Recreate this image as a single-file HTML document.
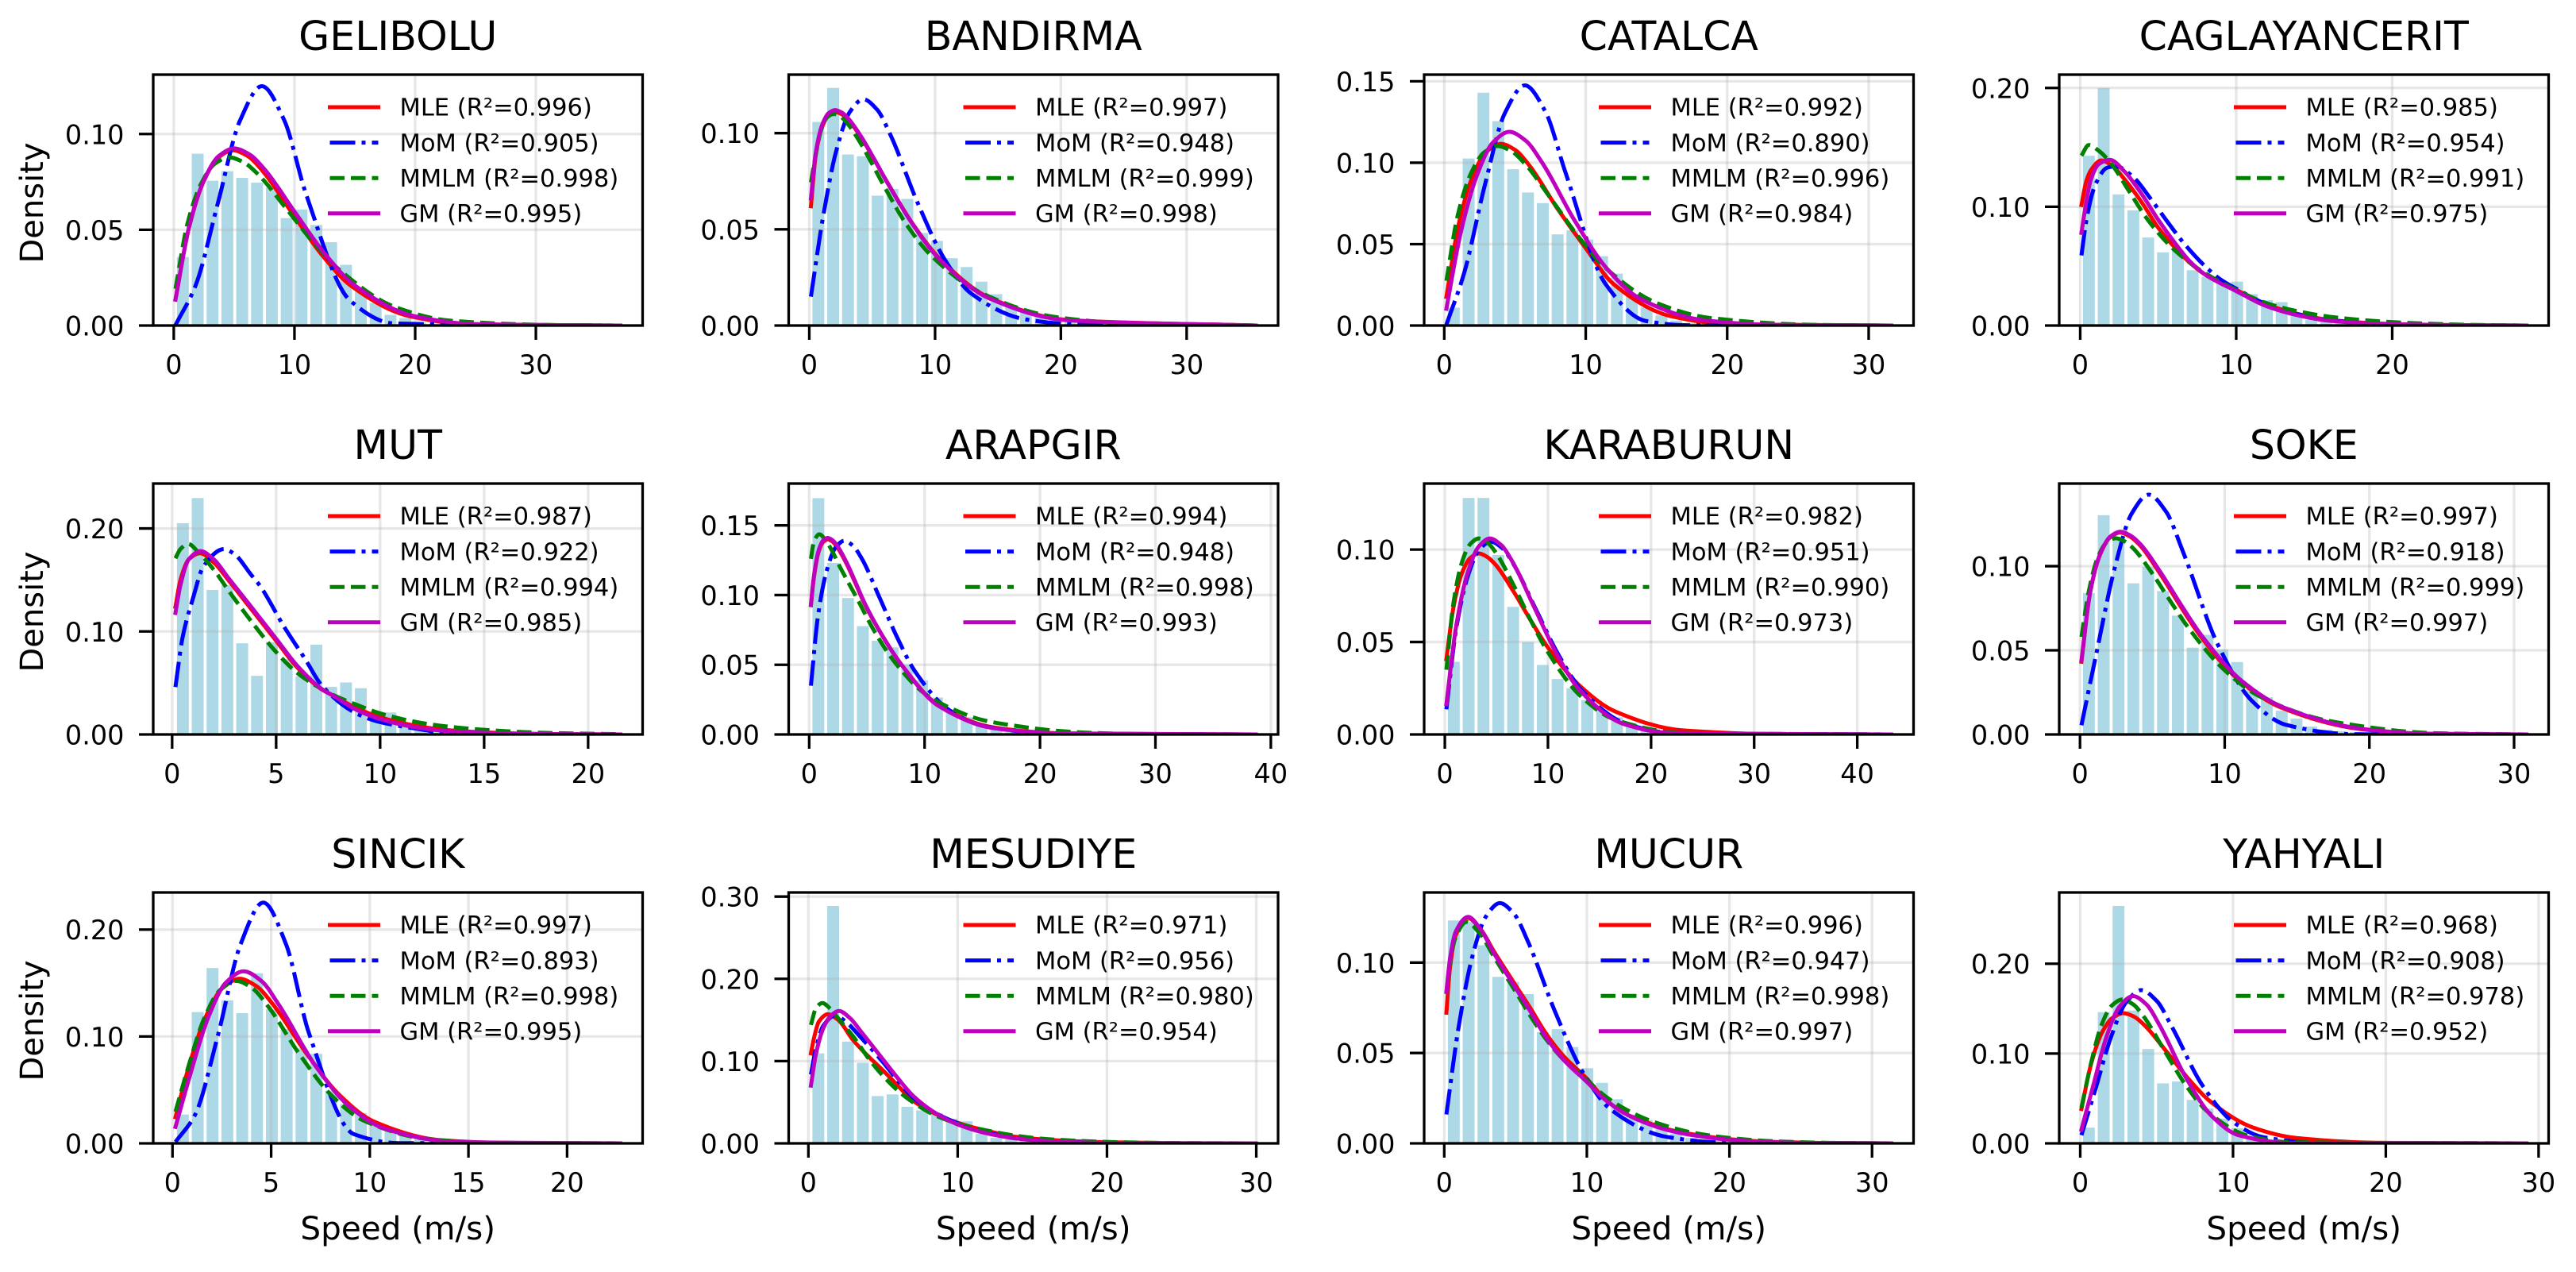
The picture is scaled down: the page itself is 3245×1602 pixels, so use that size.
<!DOCTYPE html>
<html lang="en">
<head>
<meta charset="utf-8">
<title>Wind speed distribution fits</title>
<style>
html,body{margin:0;padding:0;background:#fff;}
svg{display:block;}
text{font-family:"DejaVu Sans","Liberation Sans",sans-serif;fill:#000;}
</style>
</head>
<body>
<svg id="figure" xmlns="http://www.w3.org/2000/svg" width="3245" height="1602" viewBox="0 0 3245 1602"></svg>
<script>
const stationNames = ['GELIBOLU','BANDIRMA','CATALCA','CAGLAYANCERIT','MUT','ARAPGIR','KARABURUN','SOKE','SINCIK','MESUDIYE','MUCUR','YAHYALI'];
const xMin = [.14,.13,.15,.08,.16,.15,.15,.1,.15,.17,.15,.08];
const xMax = [37,35.5,31.6,28.6,21.55,38.7,43.3,30.85,22.7,29.97,31.35,29.2];
const yMax = [.131,.1304,.1541,.2112,.2436,.18,.1357,.1491,.2347,.305,.1388,.2793];
const xTicks = [[0,10,20,30],[0,10,20,30],[0,10,20,30],[0,10,20],[0,5,10,15,20],[0,10,20,30,40],[0,10,20,30,40],[0,10,20,30],[0,5,10,15,20],[0,10,20,30],[0,10,20,30],[0,10,20,30]];
const yTicks = [[0,.05,.1],[0,.05,.1],[0,.05,.1,.15],[0,.1,.2],[0,.1,.2],[0,.05,.1,.15],[0,.05,.1],[0,.05,.1],[0,.1,.2],[0,.1,.2,.3],[0,.05,.1],[0,.1,.2]];
const r2Mle = [.996,.997,.992,.985,.987,.994,.982,.997,.997,.971,.996,.968];
const r2Mom = [.905,.948,.890,.954,.922,.948,.951,.918,.893,.956,.947,.908];
const r2Mmlm = [.998,.999,.996,.991,.994,.998,.990,.999,.998,.980,.998,.978];
const r2Gm = [.995,.998,.984,.975,.985,.993,.973,.997,.995,.954,.997,.952];

const binDensity = [
[.0358,.0897,.0756,.0806,.0771,.0746,.072,.0561,.0606,.0525,.0435,.0317,.0182,.0118,.0056,.0039,.0015,.001,.0005,.0004,.0003,.0002,.0001,.0001,.0001,0,0,0,0,.0001],
[.1058,.1235,.0889,.088,.0675,.071,.0658,.0481,.044,.035,.0304,.0228,.0163,.0108,.0073,.0053,.0039,.0025,.0018,.0014,.001,.0007,.0005,.0003,.0002,.0001,.0001,.0001,0,.0001],
[.011,.1026,.143,.1255,.096,.0817,.0752,.056,.0585,.0528,.0426,.0319,.0193,.0111,.0062,.003,.0016,.001,.0007,.0004,.0003,.0002,.0001,.0001,0,0,0,0,0,.0001],
[.1429,.2,.1104,.097,.0741,.0616,.0634,.0466,.041,.0354,.037,.0264,.0213,.0197,.0085,.005,.0036,.0025,.002,.0012,.0008,.0005,.0003,.0002,.0001,.0001,0,0,0,.0001],
[.2051,.2295,.1403,.1449,.0885,.0569,.0897,.0731,.0564,.0872,.0462,.0505,.0449,.0218,.0213,.0103,.0085,.0064,.0051,.0038,.003,.002,.0015,.001,.0007,.0004,.0003,.0002,.0001,.0001],
[.1695,.1231,.0979,.0777,.0672,.0625,.0502,.0388,.0265,.018,.0123,.0066,.0047,.0034,.0025,.0017,.0012,.0008,.0005,.0003,.0002,.0001,.0001,0,0,0,0,0,0,.0001],
[.0393,.1279,.1279,.0971,.069,.05,.0376,.03,.025,.0186,.0136,.0093,.0057,.0036,.0024,.0016,.001,.0007,.0004,.0003,.0002,.0001,.0001,0,0,0,0,0,0,.0001],
[.084,.1303,.1154,.0898,.0997,.0852,.0706,.0516,.0592,.0505,.043,.0267,.022,.0141,.0094,.0047,.0028,.002,.0014,.001,.0006,.0004,.0002,.0001,.0001,0,0,0,0,.0001],
[.027,.1228,.164,.1338,.1218,.1591,.1254,.107,.0888,.0837,.0494,.0368,.0283,.0193,.0129,.009,.0051,.0039,.0026,.0015,.001,.0006,.0003,.0002,.0001,.0001,0,0,0,.0001],
[.1094,.2886,.1237,.098,.0575,.0595,.0445,.0401,.0368,.03,.0268,.0117,.0067,.005,.0033,.0027,.002,.0014,.001,.0007,.0005,.0003,.0002,.0001,.0001,0,0,0,0,.0001],
[.1233,.1225,.1096,.0921,.0893,.0826,.0616,.0632,.0533,.0416,.0335,.0244,.016,.0129,.0084,.0053,.003,.0023,.0015,.0012,.0009,.0006,.0004,.0002,.0001,.0001,0,0,0,.0001],
[.0175,.1461,.2643,.1479,.1051,.0668,.0689,.0484,.0389,.0276,.0168,.0077,.0046,.0031,.0025,.0018,.0012,.0008,.0005,.0003,.0002,.0001,.0001,0,0,0,0,0,0,.0001]
];

const mleSpeed = [
[.14,1.23,2.45,3.68,4.9,6.13,7.35,9.8,12.25,14.7,19.6,24.5,37],
[.13,.52,1.04,1.55,2.07,2.59,3.11,4.14,5.18,6.21,8.28,10.35,14.49,20.7,35.5],
[.15,1,2,3,4,5,6,8,10,12,16,20,31.6],
[.08,.4,.7,1.35,2,3,4,5,6,7,8,10,12,14,16,20,25,28.6],
[.16,.4,.8,1.33,2,2.7,3.8,5,6,7.2,7.8,8.85,10,11.9,13.1,15,18,21.55],
[.15,.4,.8,1.2,1.6,2,2.4,3.2,4,4.8,6.4,8,11.2,16,22,38.7],
[.15,.83,1.65,2.48,3.3,4.13,4.95,6.6,8.25,9.9,13.2,16.5,23.1,33,43.3],
[.1,.69,1.39,2.08,2.77,3.46,4.16,5.54,6.93,8.31,11.08,13.85,19.39,24,30.85],
[.15,.85,1.7,2.55,3.4,4.25,5.1,6.8,8.5,10.2,13.6,17,22.7],
[.17,.4,.7,1.3,2,3,4,5,6,7,8.5,10,12,14,16,20,25,29.97],
[.15,.4,.8,1.62,2.5,3.5,5,6,7.2,8.4,10,11.3,12.8,14.3,15.75,17.2,20,23,27,31.35],
[.08,.71,1.41,2.12,2.82,3.53,4.23,5.64,7.05,8.46,11.28,14.1,19.74,29.2]
];
const mleDensity = [
[.0136,.0503,.0749,.0877,.0915,.0885,.0808,.0588,.0371,.0207,.0048,.0007,0],
[.062,.0888,.1035,.1094,.111,.1098,.1068,.0976,.0861,.0743,.0523,.0349,.0139,.0028,0],
[.0176,.0614,.0914,.1069,.1116,.1079,.0985,.0718,.0475,.0252,.0058,.0009,0],
[.1015,.122,.131,.139,.135,.1205,.1026,.0824,.0667,.0533,.043,.03,.0175,.0096,.0047,.0013,.0002,0],
[.124,.15,.17,.176,.167,.15,.1218,.091,.0654,.0436,.0372,.0256,.0167,.0077,.0044,.002,.0004,0],
[.0928,.112,.1305,.138,.14,.1385,.1347,.1231,.1086,.0937,.07,.05,.021,.005,.0008,0],
[.0407,.0685,.0872,.0955,.0979,.0959,.0916,.0779,.0624,.0478,.0257,.0125,.0022,.0001,0],
[.0432,.084,.1069,.1171,.12,.1176,.1123,.0955,.0764,.0586,.0316,.0162,.0032,.0004,0],
[.0245,.0732,.119,.1455,.154,.1471,.1298,.0838,.0445,.0205,.003,.0004,0],
[.1094,.13,.148,.157,.15,.1254,.106,.0886,.07,.052,.036,.025,.015,.0077,.0043,.0013,.0002,0],
[.0723,.097,.115,.1248,.119,.106,.0875,.0753,.06,.048,.0358,.0243,.016,.0114,.0076,.0053,.0023,.0008,.0002,0],
[.0383,.0884,.1229,.1398,.1449,.141,.1311,.1023,.0725,.0474,.0178,.0061,.0006,0]
];

const momSpeed = [
[.14,1.83,3.65,5.48,7.3,9.13,10.95,14.6,18.25,37],
[.13,1.08,2.15,3.23,4.3,5.38,6.45,8.6,10.75,12.9,17.2,21.5,35.5],
[.15,1.43,2.85,4.28,5.7,7.13,8.55,11.4,14.25,17.1,31.6],
[.08,.4,.95,1.75,2.3,3.4,4.5,5.5,6.6,8,9,10,12,14,16,20,28.6],
[.16,.5,1,1.5,2.5,3,3.8,4.2,5.4,6.4,7.2,8.85,9.85,11.9,13,15,21.55],
[.15,.76,1.53,2.29,3.05,3.81,4.58,6.1,7.63,9.15,12.2,15.25,21.35,38.7],
[.15,1.11,2.22,3.33,4.44,5.55,6.66,8.88,11.1,13.32,17.76,22.2,43.3],
[.1,1.19,2.38,3.56,4.75,5.94,7.13,9.5,11.88,14.25,19,30.85],
[.15,1.15,2.3,3.45,4.6,5.75,6.9,9.2,11.5,22.7],
[.17,.5,1,1.8,2.5,3.5,5,6,7,8.5,10,12,14,16,20,25,29.97],
[.15,.98,1.95,2.93,3.9,4.9,5.85,7.8,9.75,11.7,15.6,19.5,31.35],
[.08,1,2,3,4,5,6,8,10,12,16,29.2]
];
const momDensity = [
[.0002,.0213,.0638,.1069,.125,.1075,.0688,.0131,.0011,0],
[.015,.0559,.0909,.1111,.1176,.1123,.0991,.064,.0345,.0165,.0032,.0005,0],
[.0005,.033,.0856,.1304,.1475,.1317,.0945,.0255,.0028,.0002,0],
[.059,.089,.118,.133,.134,.125,.107,.089,.07,.05,.0387,.031,.0175,.0092,.0045,.0009,0],
[.046,.094,.132,.163,.18,.175,.155,.145,.104,.073,.0474,.0205,.0128,.0051,.0018,.0003,0],
[.035,.0848,.1179,.1341,.139,.1352,.1258,.0981,.0695,.0455,.0171,.0058,.0006,0],
[.0136,.0574,.0854,.0999,.1043,.1009,.0921,.0671,.0423,.0236,.0054,.0008,0],
[.0055,.0506,.0983,.1311,.1425,.1325,.1083,.0539,.02,.0057,.0001,0],
[.0013,.027,.1009,.1862,.2252,.1865,.104,.0086,.0002,0],
[.0836,.115,.143,.1555,.148,.129,.0987,.076,.056,.037,.0245,.013,.0062,.003,.0006,0,0],
[.016,.063,.1027,.1256,.1329,.1269,.112,.0723,.0389,.0186,.0036,.0005,0],
[.0092,.0606,.1177,.157,.1706,.1587,.1297,.0645,.0239,.0068,.0002,0]
];

const mmlmSpeed = [
[.14,1.15,2.3,3.45,4.6,5.75,6.9,9.2,11.5,13.8,18.4,23,32.2,37],
[.13,.49,.98,1.46,1.95,2.44,2.93,3.9,4.88,5.85,7.8,9.75,13.65,19.5,25,35.5],
[.15,.94,1.89,2.83,3.77,4.71,5.66,7.54,9.43,11.31,15.08,18.85,26.39,31.6],
[.08,.55,1.2,2,3.1,4.2,5.3,6.35,7.7,10,12,14,16,20,25,28.6],
[.16,.4,.77,1.3,2,2.7,3.8,5,6,7.2,8,8.85,10,11.9,13.1,15,18,21.55],
[.15,.4,.87,1.6,2.8,4.15,5.6,7.4,10,12.5,15,18.3,21.2,24.9,30,38.7],
[.15,.83,1.65,2.48,3.3,4.13,4.95,6.6,8.25,9.9,13.2,16.5,23.1,43.3],
[.1,.62,1.24,1.86,2.48,3.1,3.72,4.96,6.2,7.44,9.92,12.4,17.36,24.8,30.85],
[.15,.81,1.62,2.42,3.23,4.04,4.85,6.46,8.08,9.69,12.92,16.15,22.7],
[.17,.5,.93,1.5,2,3,4,5,6,7,8.5,10,12,14,16,20,25,29.97],
[.15,.4,.8,1.56,2.5,3.5,5,6,7.2,8.4,10,11.3,12.8,14.3,15.75,17.2,20,23,27,31.35],
[.08,.69,1.38,2.07,2.76,3.45,4.14,5.52,6.9,8.28,11.04,13.8,29.2]
];
const mmlmDensity = [
[.0192,.0536,.0745,.0847,.0878,.0854,.0795,.062,.0439,.0287,.0095,.0025,.0002,0],
[.0744,.088,.1025,.1085,.11,.1088,.1058,.0967,.0854,.0736,.0518,.036,.017,.0045,.0013,0],
[.0275,.0673,.0935,.1064,.1103,.1073,.0998,.0779,.0552,.0361,.0136,.0046,.0004,0],
[.143,.152,.147,.136,.1138,.0914,.0735,.06,.0466,.03,.0186,.0119,.0074,.0029,.0006,0],
[.171,.18,.185,.176,.16,.14,.11,.08,.06,.044,.036,.029,.0205,.0115,.008,.0045,.0015,.0003],
[.126,.138,.1436,.137,.118,.0975,.0748,.052,.0294,.018,.0104,.0057,.0028,.001,.0002,0],
[.035,.0709,.093,.1031,.106,.1038,.0983,.0815,.0626,.0454,.0206,.008,.0008,0],
[.058,.0857,.1055,.1143,.1166,.1147,.1102,.0961,.0798,.064,.0388,.0227,.0078,.0007,0],
[.0296,.0722,.1175,.1436,.152,.1452,.128,.0827,.0445,.0213,.0041,.0006,0],
[.144,.164,.1706,.163,.152,.13,.104,.082,.064,.05,.034,.024,.0155,.009,.0052,.0018,.0003,0],
[.083,.1,.114,.1225,.116,.103,.084,.071,.057,.046,.035,.026,.0185,.013,.0092,.0063,.003,.0012,.0003,0],
[.0398,.0881,.1312,.1535,.1602,.1549,.1415,.103,.065,.0362,.0083,.0013,0]
];

const gmSpeed = [
[.14,1.25,2.5,3.75,5,6.25,7.5,10,12.5,15,20,25,37],
[.13,.51,1.03,1.54,2.05,2.56,3.08,4.1,5.13,6.15,8.2,10.25,14.35,20.5,35.5],
[.15,1.15,2.3,3.45,4.6,5.75,6.9,9.2,11.5,13.8,18.4,23,31.6],
[.08,.4,.68,1.2,1.9,2.85,3.9,5,6.1,7,8,10,12,14,16,20,28.6],
[.16,.4,.8,1.37,2,2.7,3.8,5,6,7.2,7.8,8.85,10,11.9,13.1,15,18,21.55],
[.15,.4,.8,1.2,1.6,2,2.4,3.2,4,4.8,6.4,8,11.2,16,22,38.7],
[.15,1.09,2.18,3.27,4.36,5.45,6.54,8.72,10.9,13.08,17.44,21.8,43.3],
[.1,.7,1.4,2.1,2.8,3.5,4.2,5.6,7,8.4,11.2,14,19.6,24,30.85],
[.15,.9,1.8,2.7,3.6,4.5,5.4,7.2,9,10.8,14.4,22.7],
[.17,.5,1,1.5,2.05,2.8,3.54,5,6,7,8.5,10,12,14,16,20,25,29.97],
[.15,.4,.8,1.68,2.5,3.5,5,6,7.2,8.4,10,11.3,12.8,14.3,15.75,17.2,20,23,27,31.35],
[.08,.87,1.73,2.6,3.46,4.33,5.19,6.92,8.65,10.38,13.84,29.2]
];
const gmDensity = [
[.0135,.0509,.0758,.0886,.0925,.0894,.0817,.0595,.0376,.0209,.0048,.0007,0],
[.066,.0896,.1044,.1104,.112,.1108,.1077,.0984,.0869,.0749,.0528,.0352,.014,.0028,0],
[.0103,.0565,.092,.1125,.119,.1136,.1003,.0647,.0349,.0167,.0032,.0005,0],
[.078,.105,.1227,.136,.1395,.1295,.1115,.089,.069,.0544,.043,.029,.016,.0085,.004,.001,0],
[.118,.145,.17,.178,.17,.152,.124,.093,.067,.044,.037,.024,.015,.0063,.0035,.0015,.0003,0],
[.0928,.113,.1315,.139,.141,.1395,.1357,.124,.1094,.0943,.07,.05,.0205,.0045,.0007,0],
[.0164,.0583,.0868,.1015,.106,.1025,.0936,.0682,.043,.024,.0055,.0008,0],
[.044,.0844,.1074,.1176,.1205,.1181,.1128,.0959,.0768,.0588,.0317,.0163,.0032,.0004,0],
[.0154,.0644,.1172,.1502,.161,.152,.1293,.0738,.034,.0135,.0012,0],
[.0702,.108,.14,.155,.161,.152,.1355,.102,.079,.058,.037,.023,.012,.0058,.0027,.0005,0,0],
[.0837,.102,.117,.1253,.119,.105,.086,.0735,.058,.046,.034,.024,.016,.0108,.0072,.0048,.002,.0006,.0001,0],
[.0153,.0656,.1193,.1529,.1639,.1547,.1316,.0731,.0297,.009,.0003,0]
];

const SVG_NS = 'http://www.w3.org/2000/svg';
const figure = document.getElementById('figure');
const plotWidth = 616.5, plotHeight = 316;
const columnLeft = [193, 993.5, 1794, 2594];
const rowTop = [94, 609, 1124];
const binCount = 30;

function make(parent, tag, attrs, content) {
  const node = document.createElementNS(SVG_NS, tag);
  for (const key in attrs) node.setAttribute(key, attrs[key]);
  if (content !== undefined) node.textContent = content;
  parent.appendChild(node);
  return node;
}

function monotonePath(points) {
  const n = points.length, h = [], d = [], m = new Array(n);
  for (let i = 0; i < n - 1; i++) {
    h[i] = points[i + 1][0] - points[i][0];
    d[i] = (points[i + 1][1] - points[i][1]) / h[i];
  }
  m[0] = d[0];
  m[n - 1] = d[n - 2];
  for (let i = 1; i < n - 1; i++) {
    if (d[i - 1] * d[i] <= 0) { m[i] = 0; continue; }
    const w1 = 2 * h[i] + h[i - 1], w2 = h[i] + 2 * h[i - 1];
    m[i] = (w1 + w2) / (w1 / d[i - 1] + w2 / d[i]);
  }
  let path = 'M' + points[0][0].toFixed(2) + ' ' + points[0][1].toFixed(2);
  for (let i = 0; i < n - 1; i++) {
    const c1x = points[i][0] + h[i] / 3, c1y = points[i][1] + m[i] * h[i] / 3;
    const c2x = points[i + 1][0] - h[i] / 3, c2y = points[i + 1][1] - m[i + 1] * h[i] / 3;
    path += 'C' + c1x.toFixed(2) + ' ' + c1y.toFixed(2) + ' ' + c2x.toFixed(2) + ' ' + c2y.toFixed(2) + ' ' + points[i + 1][0].toFixed(2) + ' ' + points[i + 1][1].toFixed(2);
  }
  return path;
}

const solidStyle = { stroke: '', 'stroke-width': 5, 'stroke-linecap': 'square', fill: 'none', 'stroke-linejoin': 'round' };
const mleStroke = Object.assign({}, solidStyle, { stroke: '#ff0000' });
const momStroke = { stroke: '#0000ff', 'stroke-width': 5, 'stroke-dasharray': '32 8 5 8', 'stroke-linecap': 'butt', fill: 'none', 'stroke-linejoin': 'round' };
const mmlmStroke = { stroke: '#008000', 'stroke-width': 5, 'stroke-dasharray': '18.5 8', 'stroke-linecap': 'butt', fill: 'none', 'stroke-linejoin': 'round' };
const gmStroke = Object.assign({}, solidStyle, { stroke: '#bf00bf' });

stationNames.forEach(function (station, p) {
  const col = p % 4, row = Math.floor(p / 4);
  const left = columnLeft[col], top = rowTop[row];
  const right = left + plotWidth, bottom = top + plotHeight;
  const range = xMax[p] - xMin[p];
  const lo = xMin[p] - 0.05 * range, hi = xMax[p] + 0.05 * range;
  const xScale = function (v) { return left + (v - lo) / (hi - lo) * plotWidth; };
  const yScale = function (v) { return bottom - v / yMax[p] * plotHeight; };

  const panel = make(figure, 'g', {});
  
  

  const clipId = 'clip-' + p;
  const defs = make(panel, 'defs', {});
  const clip = make(defs, 'clipPath', { id: clipId });
  make(clip, 'rect', { x: left, y: top, width: plotWidth, height: plotHeight });

  const title = make(panel, 'text', { x: left + plotWidth / 2, y: top - 31, 'text-anchor': 'middle', 'font-size': 50.5 }, station);
  
  

  const barGroup = make(panel, 'g', { 'clip-path': 'url(#' + clipId + ')' });
  
  
  const binWidth = range / binCount;
  binDensity[p].forEach(function (value, i) {
    const start = xMin[p] + i * binWidth + 0.1 * binWidth;
    const end = start + 0.8 * binWidth;
    const bar = make(barGroup, 'rect', { x: xScale(start).toFixed(2), y: yScale(value).toFixed(2), width: (xScale(end) - xScale(start)).toFixed(2), height: (bottom - yScale(value)).toFixed(2), fill: '#add8e6' });
    
    
  });

  const grid = make(panel, 'g', { 'clip-path': 'url(#' + clipId + ')', stroke: '#b0b0b0', 'stroke-opacity': 0.3, 'stroke-width': 3.3 });
  
  
  xTicks[p].forEach(function (t) {
    make(grid, 'line', { x1: xScale(t), x2: xScale(t), y1: top, y2: bottom });
  });
  yTicks[p].forEach(function (t) {
    make(grid, 'line', { x1: left, x2: right, y1: yScale(t), y2: yScale(t) });
  });

  const drawCurve = function (speeds, density, style) {
    const points = speeds.map(function (s, i) { return [xScale(s), yScale(density[i])]; });
    return make(panel, 'path', Object.assign({ d: monotonePath(points), 'clip-path': 'url(#' + clipId + ')' }, style));
  };
  const mleCurve = drawCurve(mleSpeed[p], mleDensity[p], mleStroke);
  
  
  const momCurve = drawCurve(momSpeed[p], momDensity[p], momStroke);
  
  
  const mmlmCurve = drawCurve(mmlmSpeed[p], mmlmDensity[p], mmlmStroke);
  
  
  const gmCurve = drawCurve(gmSpeed[p], gmDensity[p], gmStroke);
  
  

  const frame = make(panel, 'rect', { x: left, y: top, width: plotWidth, height: plotHeight, fill: 'none', stroke: '#000', 'stroke-width': 3.3 });
  
  

  xTicks[p].forEach(function (t) {
    const tick = make(panel, 'line', { x1: xScale(t), x2: xScale(t), y1: bottom, y2: bottom + 18, stroke: '#000', 'stroke-width': 3.3 });
    
    
    const label = make(panel, 'text', { x: xScale(t), y: bottom + 61, 'text-anchor': 'middle', 'font-size': 33.5 }, String(t));
    
    
  });
  yTicks[p].forEach(function (t) {
    const tick = make(panel, 'line', { x1: left - 18, x2: left, y1: yScale(t), y2: yScale(t), stroke: '#000', 'stroke-width': 3.3 });
    
    
    const label = make(panel, 'text', { x: left - 36.5, y: yScale(t) + 12.5, 'text-anchor': 'end', 'font-size': 33.5 }, t.toFixed(2));
    
    
  });

  if (col === 0) {
    const cy = top + plotHeight / 2 + 3.5;
    const yTitle = make(panel, 'text', { transform: 'translate(54 ' + cy + ') rotate(-90)', 'text-anchor': 'middle', 'font-size': 40 }, 'Density');
    
    
  }
  if (row === 2) {
    const xTitle = make(panel, 'text', { x: left + plotWidth / 2, y: bottom + 121, 'text-anchor': 'middle', 'font-size': 40.5 }, 'Speed (m/s)');
    
    
  }

  const legend = make(panel, 'g', {});
  
  
  const legendRow = function (i, style, text) {
    const y = top + 41 + 44.6 * i;
    const entry = make(legend, 'g', {});
    make(entry, 'line', Object.assign({ x1: right - 394, x2: right - 333, y1: y, y2: y }, style));
    make(entry, 'text', { x: right - 306, y: y + 10.7, 'font-size': 30.5 }, text);
    return entry;
  };
  const mleEntry = legendRow(0, mleStroke, 'MLE (R²=' + r2Mle[p].toFixed(3) + ')');
  
  
  const momEntry = legendRow(1, momStroke, 'MoM (R²=' + r2Mom[p].toFixed(3) + ')');
  
  
  const mmlmEntry = legendRow(2, mmlmStroke, 'MMLM (R²=' + r2Mmlm[p].toFixed(3) + ')');
  
  
  const gmEntry = legendRow(3, gmStroke, 'GM (R²=' + r2Gm[p].toFixed(3) + ')');
  
  
});
</script>
</body>
</html>
